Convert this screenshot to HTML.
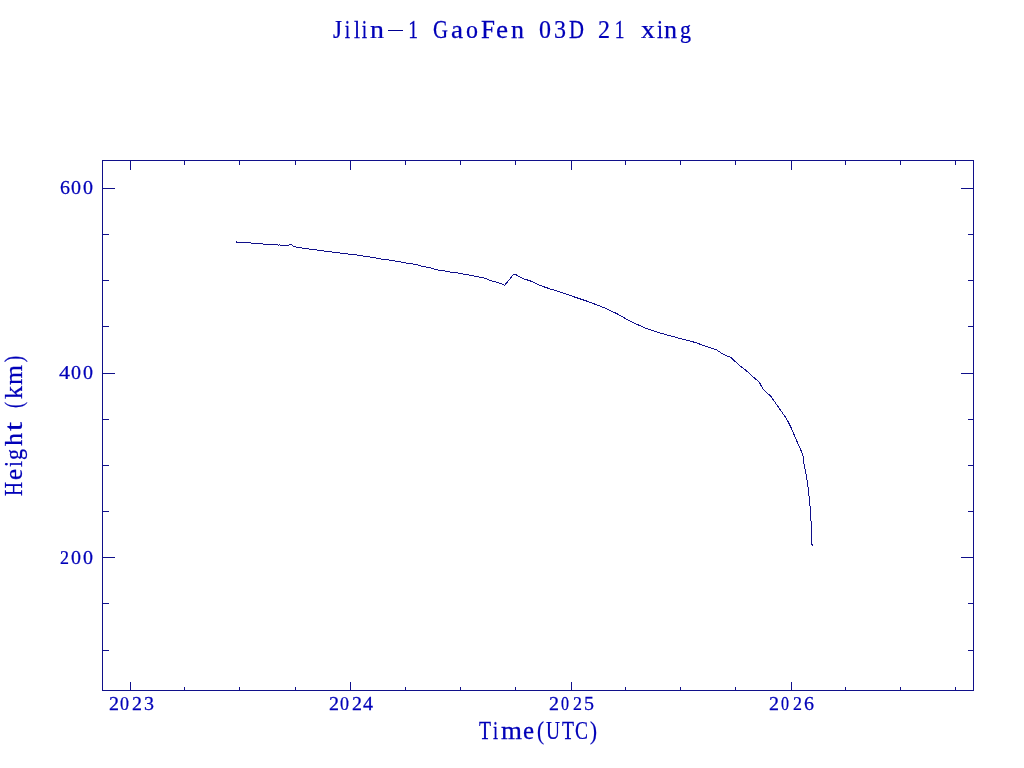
<!DOCTYPE html>
<html><head><meta charset="utf-8"><style>
html,body{margin:0;padding:0;background:#fff;width:1024px;height:768px;overflow:hidden}
svg{display:block;will-change:transform}
text{font-family:"Liberation Serif", serif}
</style></head><body>
<svg width="1024" height="768" viewBox="0 0 1024 768">
<rect width="1024" height="768" fill="#fff"/>
<rect x="102.5" y="160.5" width="871" height="530" fill="none" stroke="#10108a" stroke-width="1" shape-rendering="crispEdges"/>
<path d="M130.5 161V170M130.5 690V682M184.5 161V165M184.5 690V687M239.5 161V165M239.5 690V687M295.5 161V165M295.5 690V687M350.5 161V170M350.5 690V682M405.5 161V165M405.5 690V687M460.5 161V165M460.5 690V687M515.5 161V165M515.5 690V687M571.5 161V170M571.5 690V682M625.5 161V165M625.5 690V687M680.5 161V165M680.5 690V687M735.5 161V165M735.5 690V687M791.5 161V170M791.5 690V682M845.5 161V165M845.5 690V687M900.5 161V165M900.5 690V687M955.5 161V165M955.5 690V687M103 650.5H109M973 650.5H968M103 603.5H109M973 603.5H968M103 557.5H115M973 557.5H961M103 511.5H109M973 511.5H968M103 465.5H109M973 465.5H968M103 419.5H109M973 419.5H968M103 373.5H115M973 373.5H961M103 326.5H109M973 326.5H968M103 280.5H109M973 280.5H968M103 234.5H109M973 234.5H968M103 188.5H115M973 188.5H961" stroke="#10108a" stroke-width="1" fill="none" shape-rendering="crispEdges"/>
<path d="M236 241h1v1h-1zM236 242h15v1h-15zM251 243h12v1h-12zM263 244h15v1h-15zM278 245h1v1h-1zM279 244h1v1h-1zM280 245h9v1h-9zM289 244h3v1h-3zM292 245h1v1h-1zM293 246h3v1h-3zM296 247h6v1h-6zM302 248h7v1h-7zM309 249h8v1h-8zM317 250h7v1h-7zM324 251h8v1h-8zM332 252h8v1h-8zM340 253h8v1h-8zM348 254h9v1h-9zM357 255h6v1h-6zM363 256h7v1h-7zM370 257h6v1h-6zM376 258h5v1h-5zM381 259h8v1h-8zM389 260h6v1h-6zM395 261h6v1h-6zM401 262h5v1h-5zM406 263h7v1h-7zM413 264h5v1h-5zM418 265h3v1h-3zM421 266h5v1h-5zM426 267h5v1h-5zM431 268h3v1h-3zM434 269h4v1h-4zM438 270h7v1h-7zM445 271h5v1h-5zM450 272h8v1h-8zM458 273h5v1h-5zM463 274h6v1h-6zM469 275h5v1h-5zM474 276h5v1h-5zM479 277h5v1h-5zM484 278h3v1h-3zM487 279h2v1h-2zM489 280h3v1h-3zM492 281h4v1h-4zM496 282h3v1h-3zM499 283h3v1h-3zM502 284h2v1h-2zM504 285h1v1h-1z" fill="#10108a" shape-rendering="crispEdges"/>
<path d="M504.5 285.5 L513.5 274.5 L515.5 274.5 L519.5 276.75 L524.5 279.25 L529.5 280.5 L535 283.1 L542.25 286.25 L551.6 289.4 L561 292.2 L570.4 295.6 L579.75 298.75 L589.1 301.9 L598.25 305.4 L604.5 307.9 L610.75 310.7 L618.9 314.75 L627 319.4 L635.75 323.8 L645.1 327.9 L654.5 331.3 L666.75 334.9 L676.1 337.4 L685.5 339.9 L694.9 342.4 L703 345.25 L716.4 349.8 L723 354.2 L731 357.5 L739 365.1 L745.5 369.9 L752.1 376.1 L759.4 382.3 L762.9 389 L770.85 396.4 L778.8 407.75 L784.6 416 L787.75 421 L791.5 428.5 L794.9 436.6 L798.4 444.75 L802.1 452.9 L803.5 457.5 L803.5 463.5 L804.5 464.5 L804.5 468.5 L805.5 469.5 L805.5 473.5 L806.5 474.5 L806.5 479.5 L807.5 480.5 L807.5 486.5 L808.5 487.5 L808.5 495.5 L809.5 496.5 L809.5 505.5 L810.5 506.5 L810.5 520.5 L811.5 521.5 L811.5 543.5 L812.5 544.5" stroke="#10108a" stroke-width="1" fill="none" shape-rendering="crispEdges"/>
<path d="M811 544h1v1h-1zM812 544h1v2h-1z" fill="#10108a" shape-rendering="crispEdges"/>
<g fill="#0000b8" stroke="#0000b8" font-family="Liberation Serif, serif">
<text transform="matrix(0.8911 0 0 1 333.000 38)" font-size="26" stroke-width="0.25">J</text>
<text transform="matrix(0.7500 0 0 1 344.800 38)" font-size="26" stroke-width="0.25">i</text>
<text transform="matrix(0.8333 0 0 1 354.000 38)" font-size="26" stroke-width="0.25">l</text>
<text transform="matrix(0.7500 0 0 1 361.800 38)" font-size="26" stroke-width="0.25">i</text>
<text transform="matrix(1.0769 0 0 1 370.000 38)" font-size="26" stroke-width="0.25">n</text>
<text transform="matrix(0.7500 0 0 1 408.125 38)" font-size="26" stroke-width="0.25">1</text>
<text transform="matrix(0.7979 0 0 1 433.000 38)" font-size="26" stroke-width="0.25">G</text>
<text transform="matrix(1.0435 0 0 1 451.000 38)" font-size="26" stroke-width="0.25">a</text>
<text transform="matrix(0.9231 0 0 1 466.000 38)" font-size="26" stroke-width="0.25">o</text>
<text transform="matrix(0.9655 0 0 1 481.000 38)" font-size="26" stroke-width="0.25">F</text>
<text transform="matrix(1.0435 0 0 1 496.000 38)" font-size="26" stroke-width="0.25">e</text>
<text transform="matrix(1.0000 0 0 1 511.000 38)" font-size="26" stroke-width="0.25">n</text>
<text transform="matrix(0.9231 0 0 1 539.000 38)" font-size="26" stroke-width="0.25">0</text>
<text transform="matrix(0.9231 0 0 1 554.000 38)" font-size="26" stroke-width="0.25">3</text>
<text transform="matrix(0.7979 0 0 1 569.000 38)" font-size="26" stroke-width="0.25">D</text>
<text transform="matrix(0.9231 0 0 1 598.000 38)" font-size="26" stroke-width="0.25">2</text>
<text transform="matrix(0.7500 0 0 1 614.625 38)" font-size="26" stroke-width="0.25">1</text>
<text transform="matrix(1.0769 0 0 1 641.000 38)" font-size="26" stroke-width="0.25">x</text>
<text transform="matrix(0.8333 0 0 1 657.000 38)" font-size="26" stroke-width="0.25">i</text>
<text transform="matrix(1.0000 0 0 1 664.000 38)" font-size="26" stroke-width="0.25">n</text>
<text transform="matrix(0.8462 0 0 1 680.000 38)" font-size="26" stroke-width="0.25">g</text>
<rect x="388" y="30" width="15" height="1" fill="#000090" stroke="none" shape-rendering="crispEdges"/>
<text transform="matrix(1.0417 0 0 1 60.000 194)" font-size="19.2" stroke-width="0.25">6</text>
<text transform="matrix(1.0417 0 0 1 71.000 194)" font-size="19.2" stroke-width="0.25">0</text>
<text transform="matrix(1.0417 0 0 1 83.000 194)" font-size="19.2" stroke-width="0.25">0</text>
<text transform="matrix(1.1458 0 0 1 59.000 379)" font-size="19.2" stroke-width="0.25">4</text>
<text transform="matrix(1.0417 0 0 1 71.000 379)" font-size="19.2" stroke-width="0.25">0</text>
<text transform="matrix(1.0417 0 0 1 83.000 379)" font-size="19.2" stroke-width="0.25">0</text>
<text transform="matrix(0.9375 0 0 1 60.000 564)" font-size="19.2" stroke-width="0.25">2</text>
<text transform="matrix(1.0417 0 0 1 71.000 564)" font-size="19.2" stroke-width="0.25">0</text>
<text transform="matrix(1.0417 0 0 1 83.000 564)" font-size="19.2" stroke-width="0.25">0</text>
<text transform="matrix(1.0417 0 0 1 109.000 710)" font-size="19.2" stroke-width="0.25">2</text>
<text transform="matrix(0.9375 0 0 1 120.000 710)" font-size="19.2" stroke-width="0.25">0</text>
<text transform="matrix(1.0417 0 0 1 132.000 710)" font-size="19.2" stroke-width="0.25">2</text>
<text transform="matrix(1.0417 0 0 1 144.000 710)" font-size="19.2" stroke-width="0.25">3</text>
<text transform="matrix(1.0417 0 0 1 329.000 710)" font-size="19.2" stroke-width="0.25">2</text>
<text transform="matrix(0.9375 0 0 1 340.000 710)" font-size="19.2" stroke-width="0.25">0</text>
<text transform="matrix(1.0417 0 0 1 352.000 710)" font-size="19.2" stroke-width="0.25">2</text>
<text transform="matrix(1.0417 0 0 1 363.000 710)" font-size="19.2" stroke-width="0.25">4</text>
<text transform="matrix(1.0417 0 0 1 549.000 710)" font-size="19.2" stroke-width="0.25">2</text>
<text transform="matrix(0.8333 0 0 1 561.000 710)" font-size="19.2" stroke-width="0.25">0</text>
<text transform="matrix(0.9375 0 0 1 573.000 710)" font-size="19.2" stroke-width="0.25">2</text>
<text transform="matrix(1.0417 0 0 1 584.000 710)" font-size="19.2" stroke-width="0.25">5</text>
<text transform="matrix(1.0417 0 0 1 769.000 710)" font-size="19.2" stroke-width="0.25">2</text>
<text transform="matrix(0.8333 0 0 1 781.000 710)" font-size="19.2" stroke-width="0.25">0</text>
<text transform="matrix(0.9375 0 0 1 793.000 710)" font-size="19.2" stroke-width="0.25">2</text>
<text transform="matrix(1.0417 0 0 1 804.000 710)" font-size="19.2" stroke-width="0.25">6</text>
<text transform="matrix(0.8054 0 0 1 479.000 739)" font-size="24.4" stroke-width="0.25">T</text>
<text transform="matrix(0.7500 0 0 1 492.950 739)" font-size="24.4" stroke-width="0.25">i</text>
<text transform="matrix(1.1053 0 0 1 501.000 739)" font-size="24.4" stroke-width="0.25">m</text>
<text transform="matrix(1.0185 0 0 1 523.000 739)" font-size="24.4" stroke-width="0.25">e</text>
<text transform="matrix(0.8642 0 0 1 537.000 739)" font-size="24.4" stroke-width="0.25">(</text>
<text transform="matrix(0.7955 0 0 1 546.000 739)" font-size="24.4" stroke-width="0.25">U</text>
<text transform="matrix(0.8054 0 0 1 562.000 739)" font-size="24.4" stroke-width="0.25">T</text>
<text transform="matrix(0.7975 0 0 1 575.000 739)" font-size="24.4" stroke-width="0.25">C</text>
<text transform="matrix(0.8642 0 0 1 590.000 739)" font-size="24.4" stroke-width="0.25">)</text>
<text transform="translate(22 496) rotate(-90) matrix(0.7955 0 0 1 0.000 0)" font-size="24.4" stroke-width="0.25">H</text>
<text transform="translate(22 496) rotate(-90) matrix(1.0185 0 0 1 16.000 0)" font-size="24.4" stroke-width="0.25">e</text>
<text transform="translate(22 496) rotate(-90) matrix(0.8824 0 0 1 29.000 0)" font-size="24.4" stroke-width="0.25">i</text>
<text transform="translate(22 496) rotate(-90) matrix(0.9016 0 0 1 36.000 0)" font-size="24.4" stroke-width="0.25">g</text>
<text transform="translate(22 496) rotate(-90) matrix(1.0656 0 0 1 50.000 0)" font-size="24.4" stroke-width="0.25">h</text>
<text transform="translate(22 496) rotate(-90) matrix(1.3235 0 0 1 65.000 0)" font-size="24.4" stroke-width="0.25">t</text>
<text transform="translate(22 496) rotate(-90) matrix(0.7500 0 0 1 87.963 0)" font-size="24.4" stroke-width="0.25">(</text>
<text transform="translate(22 496) rotate(-90) matrix(1.0656 0 0 1 97.000 0)" font-size="24.4" stroke-width="0.25">k</text>
<text transform="translate(22 496) rotate(-90) matrix(1.0526 0 0 1 111.000 0)" font-size="24.4" stroke-width="0.25">m</text>
<text transform="translate(22 496) rotate(-90) matrix(0.7500 0 0 1 133.963 0)" font-size="24.4" stroke-width="0.25">)</text>
</g>
</svg>
</body></html>
